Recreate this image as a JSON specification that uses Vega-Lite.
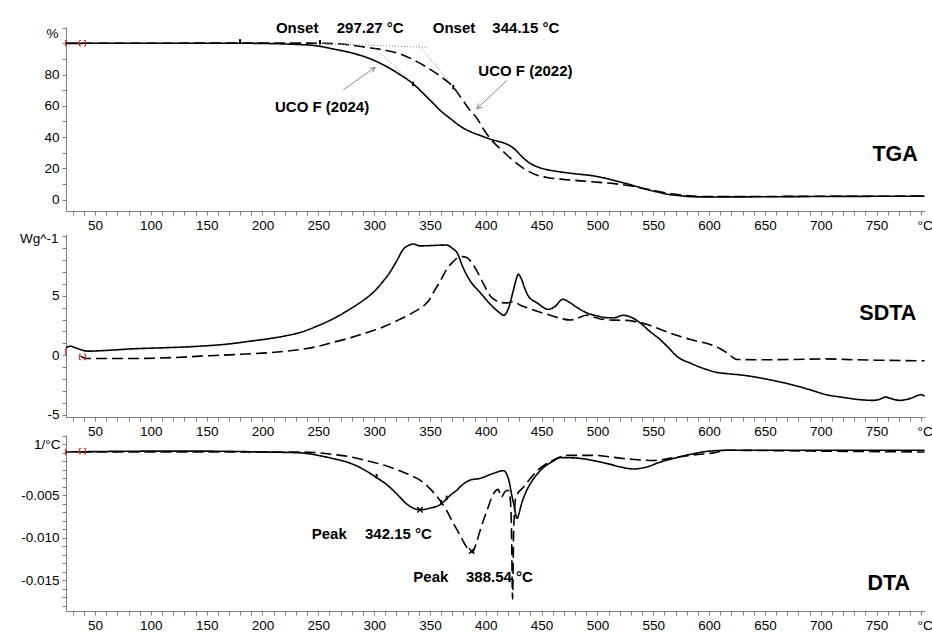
{
  "$schema": "https://vega.github.io/schema/vega-lite/v6.json",
  "background": "white",
  "padding": {"left": 19, "top": 20, "right": 0, "bottom": 0},
  "config": {
    "font": "Liberation Sans",
    "view": {"stroke": null},
    "axis": {
      "labelFont": "Liberation Sans", "labelFontSize": 13.5, "labelColor": "black",
      "domainColor": "#808080", "tickColor": "#808080", "tickSize": 4, "grid": false,
      "labelPadding": 3, "labelOverlap": false, "labelFlush": false,
      "titleFont": "Liberation Sans", "titleFontSize": 13.5, "titleFontWeight": "normal", "titleColor": "black"
    }
  },
  "datasets": {
    "tga": [
      {"s":"UCO F (2024)","T":24,"v":99.9},{"s":"UCO F (2024)","T":60,"v":100},{"s":"UCO F (2024)","T":120,"v":100},{"s":"UCO F (2024)","T":180,"v":100},{"s":"UCO F (2024)","T":233,"v":99.2},{"s":"UCO F (2024)","T":250,"v":98.2},{"s":"UCO F (2024)","T":263,"v":96.4},{"s":"UCO F (2024)","T":280,"v":93.8},{"s":"UCO F (2024)","T":293,"v":91},{"s":"UCO F (2024)","T":308,"v":86.3},{"s":"UCO F (2024)","T":323,"v":80},{"s":"UCO F (2024)","T":335,"v":74},{"s":"UCO F (2024)","T":345,"v":67.2},{"s":"UCO F (2024)","T":353,"v":61.5},{"s":"UCO F (2024)","T":360,"v":56.5},{"s":"UCO F (2024)","T":368,"v":52},{"s":"UCO F (2024)","T":377,"v":47},{"s":"UCO F (2024)","T":386,"v":43.5},{"s":"UCO F (2024)","T":395,"v":41},{"s":"UCO F (2024)","T":407,"v":38},{"s":"UCO F (2024)","T":415,"v":36.5},{"s":"UCO F (2024)","T":422,"v":34.3},{"s":"UCO F (2024)","T":427,"v":31.5},{"s":"UCO F (2024)","T":431,"v":28.5},{"s":"UCO F (2024)","T":438,"v":24},{"s":"UCO F (2024)","T":446,"v":21},{"s":"UCO F (2024)","T":456,"v":19},{"s":"UCO F (2024)","T":467,"v":17.7},{"s":"UCO F (2024)","T":480,"v":16.5},{"s":"UCO F (2024)","T":496,"v":15.2},{"s":"UCO F (2024)","T":508,"v":13.5},{"s":"UCO F (2024)","T":520,"v":11.3},{"s":"UCO F (2024)","T":532,"v":9},{"s":"UCO F (2024)","T":544,"v":6.5},{"s":"UCO F (2024)","T":553,"v":5},{"s":"UCO F (2024)","T":562,"v":3.5},{"s":"UCO F (2024)","T":574,"v":2.5},{"s":"UCO F (2024)","T":586,"v":1.8},{"s":"UCO F (2024)","T":600,"v":1.7},{"s":"UCO F (2024)","T":650,"v":1.8},{"s":"UCO F (2024)","T":700,"v":2},{"s":"UCO F (2024)","T":750,"v":2.1},{"s":"UCO F (2024)","T":793,"v":2.2},
      {"s":"UCO F (2022)","T":24,"v":100},{"s":"UCO F (2022)","T":100,"v":100},{"s":"UCO F (2022)","T":180,"v":100.2},{"s":"UCO F (2022)","T":250,"v":100},{"s":"UCO F (2022)","T":270,"v":99.5},{"s":"UCO F (2022)","T":293,"v":97.4},{"s":"UCO F (2022)","T":310,"v":95.5},{"s":"UCO F (2022)","T":323,"v":93.2},{"s":"UCO F (2022)","T":335,"v":89.5},{"s":"UCO F (2022)","T":347,"v":84.7},{"s":"UCO F (2022)","T":360,"v":78.5},{"s":"UCO F (2022)","T":371,"v":71.9},{"s":"UCO F (2022)","T":377,"v":66},{"s":"UCO F (2022)","T":386,"v":57},{"s":"UCO F (2022)","T":392,"v":52},{"s":"UCO F (2022)","T":398,"v":45},{"s":"UCO F (2022)","T":404,"v":39},{"s":"UCO F (2022)","T":410,"v":34.5},{"s":"UCO F (2022)","T":416,"v":30.5},{"s":"UCO F (2022)","T":422,"v":26.5},{"s":"UCO F (2022)","T":428,"v":23},{"s":"UCO F (2022)","T":436,"v":19},{"s":"UCO F (2022)","T":446,"v":15.6},{"s":"UCO F (2022)","T":456,"v":14},{"s":"UCO F (2022)","T":467,"v":13.1},{"s":"UCO F (2022)","T":485,"v":12},{"s":"UCO F (2022)","T":502,"v":11},{"s":"UCO F (2022)","T":515,"v":10.2},{"s":"UCO F (2022)","T":526,"v":9.2},{"s":"UCO F (2022)","T":540,"v":7.3},{"s":"UCO F (2022)","T":556,"v":5},{"s":"UCO F (2022)","T":570,"v":3.4},{"s":"UCO F (2022)","T":586,"v":2.2},{"s":"UCO F (2022)","T":600,"v":1.9},{"s":"UCO F (2022)","T":650,"v":2},{"s":"UCO F (2022)","T":700,"v":2.1},{"s":"UCO F (2022)","T":793,"v":2.2}
    ],
    "sdta": [
      {"s":"UCO F (2024)","T":24,"v":0.63},{"s":"UCO F (2024)","T":28,"v":0.76},{"s":"UCO F (2024)","T":33,"v":0.6},{"s":"UCO F (2024)","T":37,"v":0.48},{"s":"UCO F (2024)","T":43,"v":0.34},{"s":"UCO F (2024)","T":60,"v":0.4},{"s":"UCO F (2024)","T":84,"v":0.54},{"s":"UCO F (2024)","T":110,"v":0.62},{"s":"UCO F (2024)","T":144,"v":0.76},{"s":"UCO F (2024)","T":170,"v":0.95},{"s":"UCO F (2024)","T":189,"v":1.18},{"s":"UCO F (2024)","T":205,"v":1.38},{"s":"UCO F (2024)","T":219,"v":1.6},{"s":"UCO F (2024)","T":235,"v":1.95},{"s":"UCO F (2024)","T":249,"v":2.45},{"s":"UCO F (2024)","T":264,"v":3.1},{"s":"UCO F (2024)","T":278,"v":3.86},{"s":"UCO F (2024)","T":290,"v":4.6},{"s":"UCO F (2024)","T":299,"v":5.27},{"s":"UCO F (2024)","T":307,"v":6.1},{"s":"UCO F (2024)","T":314,"v":6.96},{"s":"UCO F (2024)","T":320,"v":7.9},{"s":"UCO F (2024)","T":326,"v":8.9},{"s":"UCO F (2024)","T":331,"v":9.25},{"s":"UCO F (2024)","T":335,"v":9.36},{"s":"UCO F (2024)","T":341,"v":9.2},{"s":"UCO F (2024)","T":347,"v":9.21},{"s":"UCO F (2024)","T":356,"v":9.25},{"s":"UCO F (2024)","T":365,"v":9.27},{"s":"UCO F (2024)","T":370,"v":9.0},{"s":"UCO F (2024)","T":374,"v":8.66},{"s":"UCO F (2024)","T":380,"v":7.3},{"s":"UCO F (2024)","T":386,"v":6.26},{"s":"UCO F (2024)","T":395,"v":5.27},{"s":"UCO F (2024)","T":405,"v":4.2},{"s":"UCO F (2024)","T":412,"v":3.6},{"s":"UCO F (2024)","T":416,"v":3.36},{"s":"UCO F (2024)","T":420,"v":3.86},{"s":"UCO F (2024)","T":424,"v":5.2},{"s":"UCO F (2024)","T":427,"v":6.3},{"s":"UCO F (2024)","T":429,"v":6.82},{"s":"UCO F (2024)","T":432,"v":6.4},{"s":"UCO F (2024)","T":435,"v":5.6},{"s":"UCO F (2024)","T":438,"v":4.99},{"s":"UCO F (2024)","T":446,"v":4.4},{"s":"UCO F (2024)","T":456,"v":3.86},{"s":"UCO F (2024)","T":462,"v":4.1},{"s":"UCO F (2024)","T":469,"v":4.71},{"s":"UCO F (2024)","T":474,"v":4.5},{"s":"UCO F (2024)","T":482,"v":4.0},{"s":"UCO F (2024)","T":490,"v":3.58},{"s":"UCO F (2024)","T":500,"v":3.3},{"s":"UCO F (2024)","T":508,"v":3.16},{"s":"UCO F (2024)","T":515,"v":3.15},{"s":"UCO F (2024)","T":523,"v":3.36},{"s":"UCO F (2024)","T":530,"v":3.2},{"s":"UCO F (2024)","T":538,"v":2.74},{"s":"UCO F (2024)","T":547,"v":2.0},{"s":"UCO F (2024)","T":556,"v":1.33},{"s":"UCO F (2024)","T":564,"v":0.6},{"s":"UCO F (2024)","T":571,"v":-0.08},{"s":"UCO F (2024)","T":584,"v":-0.7},{"s":"UCO F (2024)","T":598,"v":-1.21},{"s":"UCO F (2024)","T":607,"v":-1.45},{"s":"UCO F (2024)","T":616,"v":-1.55},{"s":"UCO F (2024)","T":631,"v":-1.69},{"s":"UCO F (2024)","T":645,"v":-1.9},{"s":"UCO F (2024)","T":661,"v":-2.2},{"s":"UCO F (2024)","T":675,"v":-2.5},{"s":"UCO F (2024)","T":690,"v":-2.9},{"s":"UCO F (2024)","T":705,"v":-3.32},{"s":"UCO F (2024)","T":720,"v":-3.55},{"s":"UCO F (2024)","T":735,"v":-3.74},{"s":"UCO F (2024)","T":747,"v":-3.8},{"s":"UCO F (2024)","T":753,"v":-3.7},{"s":"UCO F (2024)","T":758,"v":-3.52},{"s":"UCO F (2024)","T":763,"v":-3.65},{"s":"UCO F (2024)","T":771,"v":-3.8},{"s":"UCO F (2024)","T":780,"v":-3.65},{"s":"UCO F (2024)","T":790,"v":-3.32},{"s":"UCO F (2024)","T":793,"v":-3.47},
      {"s":"UCO F (2022)","T":37,"v":-0.08},{"s":"UCO F (2022)","T":41,"v":-0.25},{"s":"UCO F (2022)","T":48,"v":-0.28},{"s":"UCO F (2022)","T":80,"v":-0.28},{"s":"UCO F (2022)","T":120,"v":-0.2},{"s":"UCO F (2022)","T":144,"v":-0.08},{"s":"UCO F (2022)","T":175,"v":0.05},{"s":"UCO F (2022)","T":204,"v":0.2},{"s":"UCO F (2022)","T":220,"v":0.33},{"s":"UCO F (2022)","T":234,"v":0.48},{"s":"UCO F (2022)","T":250,"v":0.75},{"s":"UCO F (2022)","T":264,"v":1.1},{"s":"UCO F (2022)","T":280,"v":1.5},{"s":"UCO F (2022)","T":293,"v":1.89},{"s":"UCO F (2022)","T":310,"v":2.45},{"s":"UCO F (2022)","T":323,"v":3.02},{"s":"UCO F (2022)","T":335,"v":3.6},{"s":"UCO F (2022)","T":344,"v":4.14},{"s":"UCO F (2022)","T":349,"v":4.6},{"s":"UCO F (2022)","T":353,"v":5.27},{"s":"UCO F (2022)","T":359,"v":6.2},{"s":"UCO F (2022)","T":365,"v":7.24},{"s":"UCO F (2022)","T":370,"v":7.8},{"s":"UCO F (2022)","T":374,"v":8.15},{"s":"UCO F (2022)","T":379,"v":8.3},{"s":"UCO F (2022)","T":383,"v":8.23},{"s":"UCO F (2022)","T":388,"v":7.7},{"s":"UCO F (2022)","T":392,"v":7.1},{"s":"UCO F (2022)","T":398,"v":6.0},{"s":"UCO F (2022)","T":404,"v":4.99},{"s":"UCO F (2022)","T":409,"v":4.6},{"s":"UCO F (2022)","T":414,"v":4.43},{"s":"UCO F (2022)","T":419,"v":4.4},{"s":"UCO F (2022)","T":425,"v":4.5},{"s":"UCO F (2022)","T":431,"v":4.2},{"s":"UCO F (2022)","T":437,"v":4.0},{"s":"UCO F (2022)","T":446,"v":3.7},{"s":"UCO F (2022)","T":455,"v":3.44},{"s":"UCO F (2022)","T":465,"v":3.15},{"s":"UCO F (2022)","T":476,"v":2.96},{"s":"UCO F (2022)","T":483,"v":3.15},{"s":"UCO F (2022)","T":490,"v":3.36},{"s":"UCO F (2022)","T":497,"v":3.2},{"s":"UCO F (2022)","T":505,"v":3.02},{"s":"UCO F (2022)","T":515,"v":2.95},{"s":"UCO F (2022)","T":526,"v":2.93},{"s":"UCO F (2022)","T":535,"v":2.8},{"s":"UCO F (2022)","T":544,"v":2.6},{"s":"UCO F (2022)","T":557,"v":2.15},{"s":"UCO F (2022)","T":571,"v":1.67},{"s":"UCO F (2022)","T":586,"v":1.25},{"s":"UCO F (2022)","T":601,"v":0.9},{"s":"UCO F (2022)","T":610,"v":0.55},{"s":"UCO F (2022)","T":616,"v":0.2},{"s":"UCO F (2022)","T":620,"v":-0.1},{"s":"UCO F (2022)","T":625,"v":-0.36},{"s":"UCO F (2022)","T":650,"v":-0.38},{"s":"UCO F (2022)","T":676,"v":-0.36},{"s":"UCO F (2022)","T":705,"v":-0.31},{"s":"UCO F (2022)","T":730,"v":-0.38},{"s":"UCO F (2022)","T":750,"v":-0.42},{"s":"UCO F (2022)","T":793,"v":-0.47}
    ],
    "dta": [
      {"s":"UCO F (2024)","T":24,"v":0.0001},{"s":"UCO F (2024)","T":100,"v":0.0002},{"s":"UCO F (2024)","T":150,"v":0.0002},{"s":"UCO F (2024)","T":200,"v":0.0001},{"s":"UCO F (2024)","T":234,"v":0},{"s":"UCO F (2024)","T":250,"v":-0.0003},{"s":"UCO F (2024)","T":264,"v":-0.0007},{"s":"UCO F (2024)","T":276,"v":-0.0011},{"s":"UCO F (2024)","T":287,"v":-0.0017},{"s":"UCO F (2024)","T":295,"v":-0.0023},{"s":"UCO F (2024)","T":302,"v":-0.0029},{"s":"UCO F (2024)","T":310,"v":-0.0036},{"s":"UCO F (2024)","T":317,"v":-0.0044},{"s":"UCO F (2024)","T":323,"v":-0.0052},{"s":"UCO F (2024)","T":329,"v":-0.006},{"s":"UCO F (2024)","T":335,"v":-0.0065},{"s":"UCO F (2024)","T":341,"v":-0.0067},{"s":"UCO F (2024)","T":350,"v":-0.0065},{"s":"UCO F (2024)","T":359,"v":-0.0061},{"s":"UCO F (2024)","T":365,"v":-0.0054},{"s":"UCO F (2024)","T":369,"v":-0.0049},{"s":"UCO F (2024)","T":374,"v":-0.0044},{"s":"UCO F (2024)","T":377,"v":-0.004},{"s":"UCO F (2024)","T":386,"v":-0.0032},{"s":"UCO F (2024)","T":395,"v":-0.003},{"s":"UCO F (2024)","T":405,"v":-0.0025},{"s":"UCO F (2024)","T":416,"v":-0.0021},{"s":"UCO F (2024)","T":419,"v":-0.0026},{"s":"UCO F (2024)","T":421,"v":-0.0034},{"s":"UCO F (2024)","T":423,"v":-0.0048},{"s":"UCO F (2024)","T":425,"v":-0.006},{"s":"UCO F (2024)","T":428,"v":-0.0077},{"s":"UCO F (2024)","T":430,"v":-0.007},{"s":"UCO F (2024)","T":432,"v":-0.006},{"s":"UCO F (2024)","T":436,"v":-0.0046},{"s":"UCO F (2024)","T":440,"v":-0.0036},{"s":"UCO F (2024)","T":446,"v":-0.0025},{"s":"UCO F (2024)","T":452,"v":-0.0017},{"s":"UCO F (2024)","T":460,"v":-0.001},{"s":"UCO F (2024)","T":467,"v":-0.00056},{"s":"UCO F (2024)","T":480,"v":-0.0006},{"s":"UCO F (2024)","T":496,"v":-0.0009},{"s":"UCO F (2024)","T":510,"v":-0.0013},{"s":"UCO F (2024)","T":522,"v":-0.0017},{"s":"UCO F (2024)","T":532,"v":-0.0019},{"s":"UCO F (2024)","T":543,"v":-0.0017},{"s":"UCO F (2024)","T":556,"v":-0.0011},{"s":"UCO F (2024)","T":570,"v":-0.0006},{"s":"UCO F (2024)","T":586,"v":-0.0001},{"s":"UCO F (2024)","T":600,"v":0.0002},{"s":"UCO F (2024)","T":616,"v":0.0003},{"s":"UCO F (2024)","T":700,"v":0.0003},{"s":"UCO F (2024)","T":793,"v":0.0003},
      {"s":"UCO F (2022)","T":37,"v":0.0001},{"s":"UCO F (2022)","T":100,"v":0.0001},{"s":"UCO F (2022)","T":200,"v":0.0001},{"s":"UCO F (2022)","T":234,"v":0.0001},{"s":"UCO F (2022)","T":250,"v":0},{"s":"UCO F (2022)","T":264,"v":-0.0002},{"s":"UCO F (2022)","T":280,"v":-0.0005},{"s":"UCO F (2022)","T":293,"v":-0.0009},{"s":"UCO F (2022)","T":310,"v":-0.0015},{"s":"UCO F (2022)","T":323,"v":-0.0021},{"s":"UCO F (2022)","T":332,"v":-0.0026},{"s":"UCO F (2022)","T":341,"v":-0.0032},{"s":"UCO F (2022)","T":350,"v":-0.0042},{"s":"UCO F (2022)","T":359,"v":-0.0056},{"s":"UCO F (2022)","T":365,"v":-0.0068},{"s":"UCO F (2022)","T":371,"v":-0.0083},{"s":"UCO F (2022)","T":377,"v":-0.0097},{"s":"UCO F (2022)","T":383,"v":-0.0111},{"s":"UCO F (2022)","T":388,"v":-0.0117},{"s":"UCO F (2022)","T":391,"v":-0.0108},{"s":"UCO F (2022)","T":395,"v":-0.0091},{"s":"UCO F (2022)","T":401,"v":-0.0068},{"s":"UCO F (2022)","T":407,"v":-0.0048},{"s":"UCO F (2022)","T":411,"v":-0.0043},{"s":"UCO F (2022)","T":414,"v":-0.0052},{"s":"UCO F (2022)","T":417,"v":-0.0046},{"s":"UCO F (2022)","T":420,"v":-0.0044},{"s":"UCO F (2022)","T":422,"v":-0.0055},{"s":"UCO F (2022)","T":423,"v":-0.009},{"s":"UCO F (2022)","T":424,"v":-0.0172},{"s":"UCO F (2022)","T":425,"v":-0.009},{"s":"UCO F (2022)","T":427,"v":-0.0052},{"s":"UCO F (2022)","T":434,"v":-0.004},{"s":"UCO F (2022)","T":440,"v":-0.003},{"s":"UCO F (2022)","T":446,"v":-0.0021},{"s":"UCO F (2022)","T":453,"v":-0.0014},{"s":"UCO F (2022)","T":460,"v":-0.0009},{"s":"UCO F (2022)","T":472,"v":-0.0003},{"s":"UCO F (2022)","T":496,"v":-0.0003},{"s":"UCO F (2022)","T":526,"v":-0.0007},{"s":"UCO F (2022)","T":550,"v":-0.0009},{"s":"UCO F (2022)","T":571,"v":-0.0005},{"s":"UCO F (2022)","T":590,"v":-0.0002},{"s":"UCO F (2022)","T":604,"v":0},{"s":"UCO F (2022)","T":616,"v":0.0003},{"s":"UCO F (2022)","T":700,"v":0.0002},{"s":"UCO F (2022)","T":793,"v":0.0001}
    ],
    "notes": [
      {"p":"tga","k":"b","t":"Onset","T":212,"v":109.8},
      {"p":"tga","k":"b","t":"297.27 °C","T":266.5,"v":109.8},
      {"p":"tga","k":"b","t":"Onset","T":352.5,"v":109.8},
      {"p":"tga","k":"b","t":"344.15 °C","T":405.9,"v":109.8},
      {"p":"tga","k":"b","t":"UCO F (2024)","T":211.2,"v":59.1},
      {"p":"tga","k":"b","t":"UCO F (2022)","T":393.3,"v":82.5},
      {"p":"tga","k":"big","t":"TGA","T":746.3,"v":28.4},
      {"p":"sdta","k":"big","t":"SDTA","T":734.6,"v":3.44},
      {"p":"dta","k":"b","t":"Peak","T":244.1,"v":-0.0095},
      {"p":"dta","k":"b","t":"342.15 °C","T":291.8,"v":-0.0095},
      {"p":"dta","k":"b","t":"Peak","T":335.1,"v":-0.0146},
      {"p":"dta","k":"b","t":"388.54 °C","T":382.3,"v":-0.0146},
      {"p":"dta","k":"big","t":"DTA","T":741.8,"v":-0.01539}
    ],
    "brk": [
      {"p":"tga","k":"l","T":23.5,"v":100},{"p":"tga","k":"l","T":36,"v":100},{"p":"tga","k":"r","T":41.5,"v":100},
      {"p":"sdta","k":"l","T":23.5,"v":0.3},{"p":"sdta","k":"l","T":36,"v":-0.15},{"p":"sdta","k":"r","T":41.5,"v":-0.15},
      {"p":"dta","k":"l","T":23.5,"v":0.0001},{"p":"dta","k":"l","T":36,"v":0.0002},{"p":"dta","k":"r","T":41.5,"v":0.0002}
    ],
    "guides": [
      {"k":"dot","T":293.3,"v":101.7,"T2":335,"v2":74.1},
      {"k":"dot","T":251.5,"v":99.9,"T2":347,"v2":97.4},
      {"k":"dot","T":339.3,"v":99.6,"T2":370.9,"v2":71.9},
      {"k":"arrow","T":272.4,"v":70.2,"T2":300.8,"v2":84.6},
      {"k":"arrow","T":418.8,"v":76.2,"T2":392,"v2":58.1}
    ],
    "heads": [
      {"k":"a24","T":300.8,"v":84.6},
      {"k":"a22","T":392,"v":58.1}
    ],
    "ticksT": [
      {"T":179.9,"v":101.2},{"T":251.5,"v":100.6},{"T":334.9,"v":74},{"T":370.9,"v":71.9}
    ],
    "marksD": [
      {"k":"x","T":341,"v":-0.0067},{"k":"x","T":387.4,"v":-0.01155},
      {"k":"d","T":302.2,"v":-0.00275},{"k":"d","T":360,"v":-0.0058},{"k":"d","T":365,"v":-0.0053}
    ]
  },
  "spacing": 23,
  "bounds": "flush",
  "vconcat": [
    {
      "width": 859, "height": 184,
      "encoding": {
        "x": {"field": "T", "type": "quantitative", "scale": {"domain": [24, 793.4], "nice": false, "zero": false},
          "axis": {"values": [30,40,50,60,70,80,90,100,110,120,130,140,150,160,170,180,190,200,210,220,230,240,250,260,270,280,290,300,310,320,330,340,350,360,370,380,390,400,410,420,430,440,450,460,470,480,490,500,510,520,530,540,550,560,570,580,590,600,610,620,630,640,650,660,670,680,690,700,710,720,730,740,750,760,770,780,790],
            "labelExpr": "datum.value % 50 === 0 ? datum.label : ''",
            "title": "°C", "titleAngle": 0, "titleAlign": "left", "titleBaseline": "middle", "titleX": 851, "titleY": 14}},
        "y": {"field": "v", "type": "quantitative", "scale": {"domain": [-7.3, 110.4], "nice": false, "zero": false},
          "axis": {"values": [0,10,20,30,40,50,60,70,80,90,100,110],
            "labelExpr": "datum.value % 20 === 0 && datum.value <= 80 ? datum.label : ''",
            "title": "%", "titleAngle": 0, "titleAlign": "right", "titleBaseline": "middle", "titleX": -8, "titleY": 6.5}}
      },
      "layer": [
        {
          "data": {"name": "tga"},
          "mark": {"type": "line", "color": "black", "strokeWidth": 1.6, "interpolate": "monotone"},
          "encoding": {
            "strokeDash": {"field": "s", "type": "nominal", "scale": {"domain": ["UCO F (2024)", "UCO F (2022)"], "range": [[1, 0], [11, 5]]}, "legend": null}
          }
        },
        {
          "data": {"name": "brk"},
          "transform": [{"filter": "datum.p === 'tga' && datum.k === 'l'"}],
          "mark": {"type": "point", "shape": "M0.6,-1L0,-1L0,1L0.6,1", "filled": false, "color": "#e02020", "strokeWidth": 1, "size": 30, "opacity": 1},
          "encoding": {}
        },
        {
          "data": {"name": "brk"},
          "transform": [{"filter": "datum.p === 'tga' && datum.k === 'r'"}],
          "mark": {"type": "point", "shape": "M-0.6,-1L0,-1L0,1L-0.6,1", "filled": false, "color": "#e02020", "strokeWidth": 1, "size": 30, "opacity": 1},
          "encoding": {}
        },
        {
          "data": {"name": "guides"},
          "transform": [{"filter": "datum.k === 'dot'"}],
          "mark": {"type": "rule", "color": "#8a8a8a", "strokeWidth": 1, "strokeDash": [1, 2]},
          "encoding": {"x2": {"field": "T2"}, "y2": {"field": "v2"}}
        },
        {
          "data": {"name": "guides"},
          "transform": [{"filter": "datum.k === 'arrow'"}],
          "mark": {"type": "rule", "color": "#8a8a8a", "strokeWidth": 1},
          "encoding": {"x2": {"field": "T2"}, "y2": {"field": "v2"}}
        },
        {
          "data": {"name": "heads"},
          "transform": [{"filter": "datum.k === 'a24'"}],
          "mark": {"type": "point", "shape": "M-0.5,1L0,0L0.5,1", "filled": false, "color": "#8a8a8a", "strokeWidth": 1, "size": 100, "angle": 54.5, "opacity": 1},
          "encoding": {}
        },
        {
          "data": {"name": "heads"},
          "transform": [{"filter": "datum.k === 'a22'"}],
          "mark": {"type": "point", "shape": "M-0.5,1L0,0L0.5,1", "filled": false, "color": "#8a8a8a", "strokeWidth": 1, "size": 100, "angle": 226.7, "opacity": 1},
          "encoding": {}
        },
        {
          "data": {"name": "ticksT"},
          "mark": {"type": "point", "shape": "M0,-1L0,1", "filled": false, "color": "black", "strokeWidth": 2, "size": 20, "opacity": 1},
          "encoding": {}
        },
        {
          "data": {"name": "notes"},
          "transform": [{"filter": "datum.p === 'tga' && datum.k === 'b'"}],
          "mark": {"type": "text", "align": "left", "baseline": "middle", "fontSize": 15, "fontWeight": "bold", "color": "black", "font": "Liberation Sans"},
          "encoding": {"text": {"field": "t"}}
        },
        {
          "data": {"name": "notes"},
          "transform": [{"filter": "datum.p === 'tga' && datum.k === 'big'"}],
          "mark": {"type": "text", "align": "left", "baseline": "middle", "fontSize": 21.5, "fontWeight": "bold", "color": "black", "font": "Liberation Sans"},
          "encoding": {"text": {"field": "t"}}
        }
      ]
    },
    {
      "spacing": 18,
      "bounds": "flush",
      "vconcat": [
        {
          "width": 859, "height": 183,
          "encoding": {
            "x": {"field": "T", "type": "quantitative", "scale": {"domain": [24, 793.4], "nice": false, "zero": false},
              "axis": {"values": [30,40,50,60,70,80,90,100,110,120,130,140,150,160,170,180,190,200,210,220,230,240,250,260,270,280,290,300,310,320,330,340,350,360,370,380,390,400,410,420,430,440,450,460,470,480,490,500,510,520,530,540,550,560,570,580,590,600,610,620,630,640,650,660,670,680,690,700,710,720,730,740,750,760,770,780,790],
                "labelExpr": "datum.value % 50 === 0 ? datum.label : ''",
                "title": "°C", "titleAngle": 0, "titleAlign": "left", "titleBaseline": "middle", "titleX": 851, "titleY": 14}},
            "y": {"field": "v", "type": "quantitative", "scale": {"domain": [-5.2, 10.2], "nice": false, "zero": false},
              "axis": {"values": [-5,-4,-3,-2,-1,0,1,2,3,4,5,6,7,8,9,10],
                "labelExpr": "datum.value === 5 ? '5' : datum.value === 0 ? '0' : datum.value === -5 ? '-5' : ''",
                "title": "Wg^-1", "titleAngle": 0, "titleAlign": "right", "titleBaseline": "middle", "titleX": -8, "titleY": 4}}
          },
          "layer": [
            {
              "data": {"name": "sdta"},
              "mark": {"type": "line", "color": "black", "strokeWidth": 1.6, "interpolate": "monotone"},
              "encoding": {
                "strokeDash": {"field": "s", "type": "nominal", "scale": {"domain": ["UCO F (2024)", "UCO F (2022)"], "range": [[1, 0], [11, 5]]}, "legend": null}
              }
            },
            {
              "data": {"name": "brk"},
              "transform": [{"filter": "datum.p === 'sdta' && datum.k === 'l'"}],
              "mark": {"type": "point", "shape": "M0.6,-1L0,-1L0,1L0.6,1", "filled": false, "color": "#e02020", "strokeWidth": 1, "size": 30, "opacity": 1},
              "encoding": {}
            },
            {
              "data": {"name": "brk"},
              "transform": [{"filter": "datum.p === 'sdta' && datum.k === 'r'"}],
              "mark": {"type": "point", "shape": "M-0.6,-1L0,-1L0,1L-0.6,1", "filled": false, "color": "#e02020", "strokeWidth": 1, "size": 30, "opacity": 1},
              "encoding": {}
            },
            {
              "data": {"name": "notes"},
              "transform": [{"filter": "datum.p === 'sdta'"}],
              "mark": {"type": "text", "align": "left", "baseline": "middle", "fontSize": 21.5, "fontWeight": "bold", "color": "black", "font": "Liberation Sans"},
              "encoding": {"text": {"field": "t"}}
            }
          ]
        },
        {
          "width": 859, "height": 176,
          "encoding": {
            "x": {"field": "T", "type": "quantitative", "scale": {"domain": [24, 793.4], "nice": false, "zero": false},
              "axis": {"values": [30,40,50,60,70,80,90,100,110,120,130,140,150,160,170,180,190,200,210,220,230,240,250,260,270,280,290,300,310,320,330,340,350,360,370,380,390,400,410,420,430,440,450,460,470,480,490,500,510,520,530,540,550,560,570,580,590,600,610,620,630,640,650,660,670,680,690,700,710,720,730,740,750,760,770,780,790],
                "labelExpr": "datum.value % 50 === 0 ? datum.label : ''",
                "title": "°C", "titleAngle": 0, "titleAlign": "left", "titleBaseline": "middle", "titleX": 851, "titleY": 14}},
            "y": {"field": "v", "type": "quantitative", "scale": {"domain": [-0.0186, 0.0021], "nice": false, "zero": false},
              "axis": {"values": [-0.018,-0.017,-0.016,-0.015,-0.014,-0.013,-0.012,-0.011,-0.01,-0.009,-0.008,-0.007,-0.006,-0.005,-0.004,-0.003,-0.002,-0.001,0,0.001,0.002],
                "labelExpr": "datum.value === -0.005 ? '-0.005' : datum.value === -0.01 ? '-0.010' : datum.value === -0.015 ? '-0.015' : ''",
                "title": "1/°C", "titleAngle": 0, "titleAlign": "right", "titleBaseline": "middle", "titleX": -6, "titleY": 9}}
          },
          "layer": [
            {
              "data": {"name": "dta"},
              "mark": {"type": "line", "color": "black", "strokeWidth": 1.6, "interpolate": "monotone"},
              "encoding": {
                "strokeDash": {"field": "s", "type": "nominal", "scale": {"domain": ["UCO F (2024)", "UCO F (2022)"], "range": [[1, 0], [11, 5]]}, "legend": null}
              }
            },
            {
              "data": {"name": "brk"},
              "transform": [{"filter": "datum.p === 'dta' && datum.k === 'l'"}],
              "mark": {"type": "point", "shape": "M0.6,-1L0,-1L0,1L0.6,1", "filled": false, "color": "#e02020", "strokeWidth": 1, "size": 30, "opacity": 1},
              "encoding": {}
            },
            {
              "data": {"name": "brk"},
              "transform": [{"filter": "datum.p === 'dta' && datum.k === 'r'"}],
              "mark": {"type": "point", "shape": "M-0.6,-1L0,-1L0,1L-0.6,1", "filled": false, "color": "#e02020", "strokeWidth": 1, "size": 30, "opacity": 1},
              "encoding": {}
            },
            {
              "data": {"name": "marksD"},
              "transform": [{"filter": "datum.k === 'x'"}],
              "mark": {"type": "point", "shape": "M-1,-1L1,1M-1,1L1,-1", "filled": false, "color": "black", "strokeWidth": 1.3, "size": 30, "opacity": 1},
              "encoding": {}
            },
            {
              "data": {"name": "marksD"},
              "transform": [{"filter": "datum.k === 'd'"}],
              "mark": {"type": "point", "shape": "M0,-1L0,1", "filled": false, "color": "black", "strokeWidth": 2, "size": 20, "opacity": 1},
              "encoding": {}
            },
            {
              "data": {"name": "notes"},
              "transform": [{"filter": "datum.p === 'dta' && datum.k === 'b'"}],
              "mark": {"type": "text", "align": "left", "baseline": "middle", "fontSize": 15, "fontWeight": "bold", "color": "black", "font": "Liberation Sans"},
              "encoding": {"text": {"field": "t"}}
            },
            {
              "data": {"name": "notes"},
              "transform": [{"filter": "datum.p === 'dta' && datum.k === 'big'"}],
              "mark": {"type": "text", "align": "left", "baseline": "middle", "fontSize": 21.5, "fontWeight": "bold", "color": "black", "font": "Liberation Sans"},
              "encoding": {"text": {"field": "t"}}
            }
          ]
        }
      ]
    }
  ]
}
